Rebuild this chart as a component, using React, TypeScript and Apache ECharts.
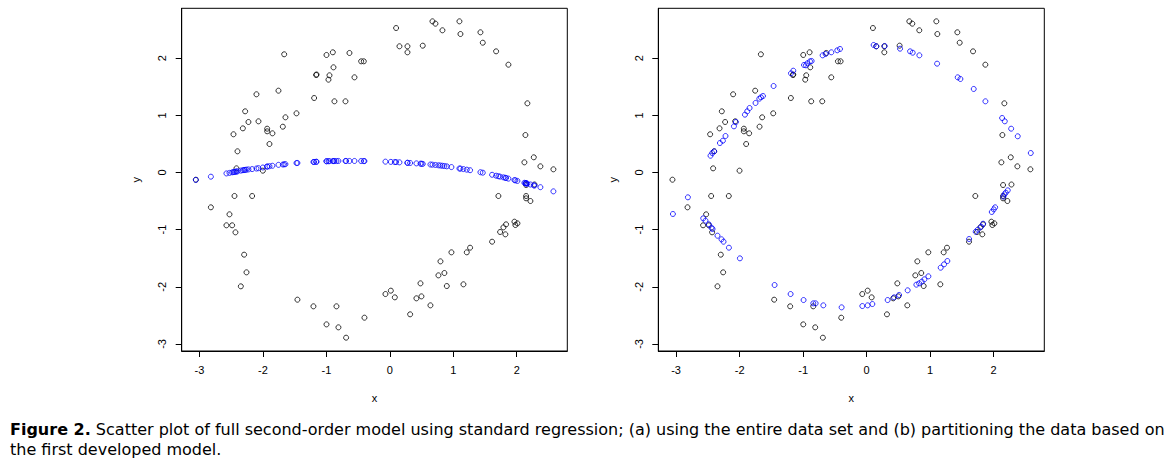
import React, { useEffect, useRef } from "react";
import * as echarts from "echarts";

// Observed data (black circles), same in both panels
const obsX = [
  -1.665, -0.998, -0.898, -0.636, -0.452, -0.41, -0.888, -1.161, -1.155, -0.951,
  -0.967, -0.557, -2.102, -1.755, -1.193, -0.873, -0.699, -2.28, -1.471, -1.645,
  -2.228, -2.07, -2.316, -1.686, -1.933, -1.933, -1.85, -2.464, -1.897, -2.401,
  -2.417, -2.001, 0.099, 0.672, 0.719, 1.097, 0.829, 1.113, 1.428, 1.465,
  0.152, 0.278, 0.278, 0.519, 1.675, 1.869, 2.168, 2.137, 2.121, 2.269,
  2.373, 2.578, -3.057, -2.448, -2.17, -2.82, -2.527, -2.575, -2.485, -2.433,
  -2.296, -2.259, -2.348, -1.456, -1.204, -0.841, -0.4, -0.998, -0.81, -0.689,
  2.148, 2.148, 2.148, 2.216, 1.711, 1.964, 2.011, 1.979, 1.832, 1.79,
  1.738, 1.821, 1.612, 1.265, 1.213, 0.971, 0.798, 0.86, 0.766, 1.16,
  0.898, 0.483, 0.498, 0.419, 0.64, 0.32, -0.069, 0.016, 0.079, 2.28,
];
const obsY = [
  2.069, 2.057, 2.104, 2.092, 1.946, 1.946, 1.841, 1.707, 1.715, 1.701,
  1.625, 1.666, 1.369, 1.432, 1.304, 1.246, 1.246, 1.071, 1.036, 0.966,
  0.884, 0.896, 0.773, 0.802, 0.767, 0.721, 0.686, 0.669, 0.499, 0.371,
  0.073, 0.032, 2.529, 2.646, 2.605, 2.646, 2.489, 2.424, 2.454, 2.272,
  2.209, 2.209, 2.104, 2.22, 2.121, 1.887, 1.211, 0.656, 0.178, 0.266,
  0.108, 0.056, -0.126, -0.411, -0.411, -0.609, -0.732, -0.924, -0.924, -1.047,
  -1.438, -1.747, -1.992, -2.226, -2.342, -2.342, -2.541, -2.658, -2.71, -2.891,
  -0.219, -0.411, -0.452, -0.499, -0.411, -0.861, -0.89, -0.919, -0.907, -0.96,
  -1.041, -1.082, -1.211, -1.316, -1.397, -1.397, -1.555, -1.759, -1.8, -1.957,
  -1.987, -1.94, -2.168, -2.202, -2.325, -2.482, -2.127, -2.068, -2.185, -0.21,
];

// (a) fitted values of the single model (blue), at the observed x
const fitAY = [
  0.143, 0.197, 0.2, 0.202, 0.201, 0.2, 0.2, 0.188, 0.188, 0.199,
  0.198, 0.202, 0.07, 0.134, 0.185, 0.201, 0.202, 0.046, 0.166, 0.146,
  0.054, 0.076, 0.04, 0.14, 0.104, 0.104, 0.118, 0.008, 0.11, 0.02,
  0.017, 0.088, 0.182, 0.137, 0.132, 0.07, 0.118, 0.068, 0.005, -0.003,
  0.178, 0.17, 0.17, 0.151, -0.056, -0.107, -0.196, -0.186, -0.18, -0.225,
  -0.257, -0.33, -0.13, 0.01, 0.06, -0.073, -0.007, -0.016, 0.003, 0.014,
  0.044, 0.05, 0.033, 0.167, 0.184, 0.201, 0.2, 0.197, 0.202, 0.202,
  -0.19, -0.19, -0.19, -0.21, -0.065, -0.132, -0.147, -0.138, -0.096, -0.085,
  -0.072, -0.093, -0.04, 0.04, 0.05, 0.095, 0.122, 0.114, 0.126, 0.06,
  0.108, 0.155, 0.153, 0.16, 0.14, 0.167, 0.19, 0.186, 0.183, -0.228,
];

// (b) fitted values of the partitioned models (blue)
const fitBX = [
  -0.419, -0.462, -0.556, -0.646, -0.693, -0.866, -0.892, -0.934, -0.986, -0.955,
  -1.155, -1.191, -1.465, -1.632, -1.664, -1.69, -1.749, -1.843, -1.88, -1.916,
  -2.058, -2.089, -2.222, -2.263, -2.31, -2.4, -2.431, -2.458, 0.11, 0.153,
  0.284, 0.526, 0.684, 0.725, 0.83, 1.109, 1.434, 1.476, 1.686, 1.87,
  2.133, 2.175, 2.275, 2.379, 2.584, -3.05, -2.814, -2.573, -2.537, -2.484,
  -2.442, -2.426, -2.348, -2.285, -2.253, -2.168, -1.995, -1.449, -1.197, -0.993,
  -0.84, -0.803, -0.682, -0.394, -0.068, 0.016, 0.09, 0.331, 0.432, 0.511,
  0.646, 0.783, 0.826, 0.867, 0.909, 0.972, 1.166, 1.219, 1.271, 1.613,
  1.717, 1.749, 1.802, 1.834, 1.97, 2.001, 2.023, 2.154, 2.169, 2.19, 2.222,
];
const fitBY = [
  2.162, 2.139, 2.104, 2.074, 2.051, 1.952, 1.946, 1.911, 1.882, 1.876,
  1.782, 1.736, 1.514, 1.339, 1.316, 1.292, 1.217, 1.129, 1.071, 1.012,
  0.884, 0.808, 0.639, 0.557, 0.516, 0.371, 0.341, 0.294, 2.232, 2.209,
  2.214, 2.167, 2.121, 2.097, 2.051, 1.905, 1.666, 1.637, 1.462, 1.246,
  0.954, 0.896, 0.767, 0.634, 0.341, -0.726, -0.434, -0.802, -0.843, -0.907,
  -0.966, -0.989, -1.106, -1.169, -1.211, -1.316, -1.502, -1.969, -2.127, -2.232,
  -2.29, -2.29, -2.325, -2.36, -2.337, -2.325, -2.302, -2.232, -2.185, -2.144,
  -2.062, -1.963, -1.94, -1.911, -1.87, -1.817, -1.666, -1.607, -1.549, -1.164,
  -1.036, -1.001, -0.948, -0.896, -0.691, -0.645, -0.609, -0.423, -0.382, -0.353, -0.312,
];

const xTicks = [-3, -2, -1, 0, 1, 2];
const yTicks = [-3, -2, -1, 0, 1, 2];
const xRange = [-3.28, 2.797];
const yRange = [-3.124, 2.874];

const captionBold = "Figure 2.";
const captionLine1 =
  " Scatter plot of full second-order model using standard regression; (a) using the entire data set and (b) partitioning the data based on";
const captionLine2 = "the first developed model.";

const FONT = "'Liberation Sans', Arial, Helvetica, sans-serif";
const CAP_FONT = "'DejaVu Sans', sans-serif";

export default function App() {
  const ref = useRef<HTMLDivElement>(null);

  useEffect(() => {
    if (!ref.current) return;
    const chart = echarts.init(ref.current, null, { renderer: "svg" });

    const mkX = (gi: number) => ({
      type: "value",
      gridIndex: gi,
      min: xRange[0],
      max: xRange[1],
      name: "x",
      nameLocation: "middle",
      nameGap: 41,
      nameTextStyle: { fontSize: 11, color: "#000", fontFamily: FONT },
      axisLine: { show: true, onZero: false, lineStyle: { color: "#000", width: 1 } },
      axisTick: { show: true, customValues: xTicks, length: 6, lineStyle: { color: "#000" } },
      axisLabel: { customValues: xTicks, fontSize: 11, color: "#000", margin: 13, fontFamily: FONT },
      splitLine: { show: false },
    });
    const mkY = (gi: number) => ({
      type: "value",
      gridIndex: gi,
      min: yRange[0],
      max: yRange[1],
      name: "y",
      nameLocation: "middle",
      nameGap: 40,
      nameTextStyle: { fontSize: 11, color: "#000", fontFamily: FONT },
      axisLine: { show: true, onZero: false, lineStyle: { color: "#000", width: 1 } },
      axisTick: { show: true, customValues: yTicks, length: 6, lineStyle: { color: "#000" } },
      axisLabel: { customValues: yTicks, fontSize: 11, color: "#000", margin: 14, rotate: 90, fontFamily: FONT },
      splitLine: { show: false },
    });

    const circle = (color: string) => ({
      color: "rgba(0,0,0,0)",
      borderColor: color,
      borderWidth: 1,
    });

    const black = obsX.map((x, i) => [x, obsY[i]]);
    const blueA = obsX.map((x, i) => [x, fitAY[i]]);
    const blueB = fitBX.map((x, i) => [x, fitBY[i]]);

    chart.setOption({
      animation: false,
      backgroundColor: "#fff",
      grid: [
        { left: 181.7, top: 8.3, width: 385.6, height: 342.7, show: true, borderColor: "#000", borderWidth: 1, backgroundColor: "transparent" },
        { left: 658.3, top: 8.3, width: 386, height: 342.7, show: true, borderColor: "#000", borderWidth: 1, backgroundColor: "transparent" },
      ],
      xAxis: [mkX(0), mkX(1)],
      yAxis: [mkY(0), mkY(1)],
      series: [
        { type: "scatter", xAxisIndex: 0, yAxisIndex: 0, symbol: "circle", symbolSize: 5, itemStyle: circle("#000"), data: black, silent: true },
        { type: "scatter", xAxisIndex: 0, yAxisIndex: 0, symbol: "circle", symbolSize: 5, itemStyle: circle("#0000ff"), data: blueA, silent: true },
        { type: "scatter", xAxisIndex: 1, yAxisIndex: 1, symbol: "circle", symbolSize: 5, itemStyle: circle("#000"), data: black, silent: true },
        { type: "scatter", xAxisIndex: 1, yAxisIndex: 1, symbol: "circle", symbolSize: 5, itemStyle: circle("#0000ff"), data: blueB, silent: true },
      ],
      graphic: [
        {
          type: "text",
          x: 10,
          y: 421,
          style: {
            text: "{b|" + captionBold + "}" + captionLine1,
            fontSize: 16,
            fontFamily: CAP_FONT,
            fill: "#000",
            rich: { b: { fontWeight: "bold", fontSize: 16, fontFamily: CAP_FONT, fill: "#000" } },
          },
        },
        {
          type: "text",
          x: 10,
          y: 441,
          style: { text: captionLine2, fontSize: 16, fontFamily: CAP_FONT, fill: "#000" },
        },
      ],
    });

    return () => chart.dispose();
  }, []);

  return (
    <div
      ref={ref}
      style={{ position: "absolute", left: 0, top: 0, width: 1173, height: 465 }}
    />
  );
}
